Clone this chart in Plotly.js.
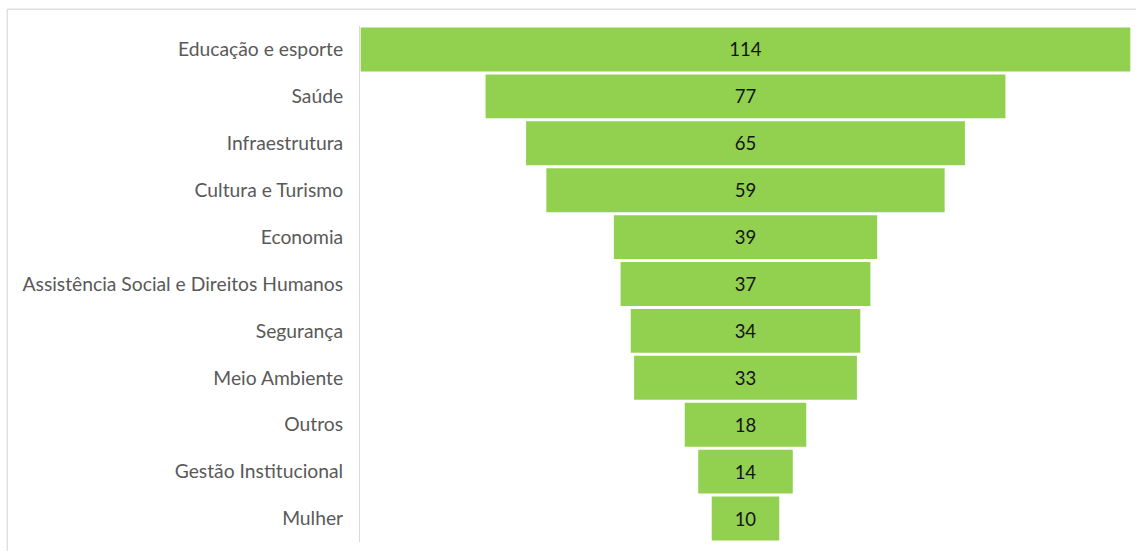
<!DOCTYPE html>
<html>
<head>
<meta charset="utf-8">
<script src="https://cdn.plot.ly/plotly-3.0.1.min.js"></script>
<style>html,body{margin:0;padding:0;background:#fff;}#chart{width:1136px;height:551px;}</style>
</head>
<body>
<div id="chart"></div>
<script>
const categories = [
  "Educação e esporte",
  "Saúde",
  "Infraestrutura",
  "Cultura e Turismo",
  "Economia",
  "Assistência Social e Direitos Humanos",
  "Segurança",
  "Meio Ambiente",
  "Outros",
  "Gestão Institucional",
  "Mulher"
];
const values = [114, 77, 65, 59, 39, 37, 34, 33, 18, 14, 10];

const trace = {
  type: 'funnel',
  y: categories,
  x: values,
  textinfo: 'value',
  textposition: 'inside',
  insidetextanchor: 'middle',
  textfont: {family: 'Lato, sans-serif', size: 18.5, color: '#141414'},
  marker: {color: '#92d050', line: {width: 0}},
  connector: {visible: false},
  hoverinfo: 'none'
};

const layout = {
  width: 1136,
  height: 551,
  margin: {l: 360, r: 5, t: 26, b: 9},
  paper_bgcolor: '#ffffff',
  plot_bgcolor: '#ffffff',
  funnelgap: 0.064,
  showlegend: false,
  xaxis: {range: [-57.1, 57.1], visible: false, fixedrange: true},
  yaxis: {
    showline: true, linecolor: '#d9d9d9', linewidth: 1,
    ticks: '', ticklen: 0, showgrid: false, zeroline: false,
    tickfont: {family: 'Lato, sans-serif', size: 19.3, color: '#595959'},
    ticklabelstandoff: 12,
    automargin: false
  },
  shapes: [
    {type: 'line', xref: 'paper', yref: 'paper', x0: -0.4575, x1: 1.02, y0: 1.0323, y1: 1.0323,
     line: {color: '#e0e0e0', width: 1.5}},
    {type: 'line', xref: 'paper', yref: 'paper', x0: -0.4575, x1: -0.4575, y0: 1.0323, y1: -0.03,
     line: {color: '#e0e0e0', width: 1.5}}
  ]
};

Plotly.newPlot('chart', [trace], layout, {displayModeBar: false, staticPlot: true});
</script>
</body>
</html>
